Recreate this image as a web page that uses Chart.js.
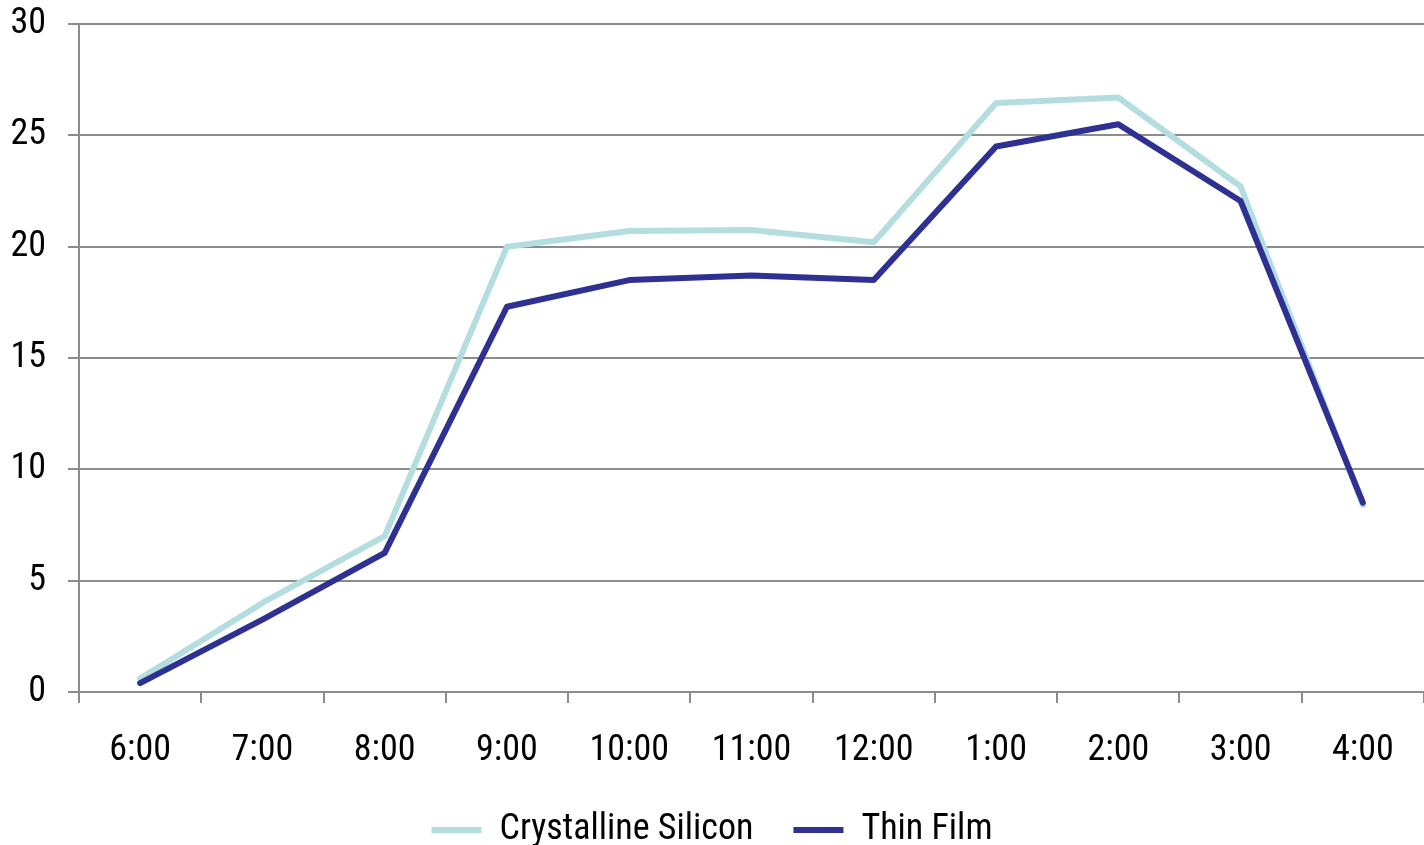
<!DOCTYPE html>
<html>
<head>
<meta charset="utf-8">
<script src="https://cdn.jsdelivr.net/npm/chart.js@4/dist/chart.umd.min.js"></script>
<style>
  html, body { margin: 0; padding: 0; background: #fff; }
  #wrap { width: 1424px; height: 845px; }
</style>
</head>
<body>
<div id="wrap"><canvas id="chart"></canvas></div>
<script>
// hours of the day
const hours = ["6:00", "7:00", "8:00", "9:00", "10:00", "11:00", "12:00", "1:00", "2:00", "3:00", "4:00"];
const crystalline = [0.6, 4.0, 7.0, 20.0, 20.7, 20.75, 20.2, 26.45, 26.7, 22.7, 8.4];
const thinFilm = [0.4, 3.25, 6.25, 17.3, 18.5, 18.7, 18.5, 24.5, 25.5, 22.05, 8.5];
const yTicks = [0, 5, 10, 15, 20, 25, 30];

const FONT = "'Liberation Sans Narrow', 'Arial Narrow', 'Roboto Condensed', 'Liberation Sans', sans-serif";
const gridColor = '#8c8c8c';

const ctx = document.getElementById('chart');
new Chart(ctx, {
    type: 'line',
    data: {
        labels: hours,
        datasets: [
            {
                label: 'Crystalline Silicon',
                data: crystalline,
                borderColor: '#b4dde0',
                backgroundColor: '#b4dde0',
                borderWidth: 6,
                order: 1,
            },
            {
                label: 'Thin Film',
                data: thinFilm,
                borderColor: '#2e3192',
                backgroundColor: '#2e3192',
                borderWidth: 6,
                order: 0,
            },
        ],
    },
    options: {
        responsive: true,
        maintainAspectRatio: false,
        animation: false,
        layout: {
            padding: { top: 0, right: 0, left: 0, bottom: 0 },
        },
        elements: {
            line: { tension: 0, borderCapStyle: 'round', borderJoinStyle: 'round' },
            point: { radius: 0, hoverRadius: 0 },
        },
        scales: {
            x: {
                offset: true,
                afterFit: (scale) => { scale.height = 80; },
                grid: {
                    offset: true,
                    drawOnChartArea: false,
                    drawTicks: true,
                    tickLength: 11,
                    color: gridColor,
                    lineWidth: 2,
                },
                border: { display: true, color: gridColor, width: 2 },
                ticks: {
                    color: '#000',
                    padding: 26,
                    maxRotation: 0,
                    font: { family: FONT, size: 36 },
                },
            },
            y: {
                min: 0,
                max: 30,
                afterFit: (scale) => {
                    scale.width = 79;
                    scale.paddingTop = 24;
                },
                afterBuildTicks: (scale) => {
                    scale.ticks = yTicks.map((v) => ({ value: v }));
                },
                grid: {
                    color: gridColor,
                    lineWidth: 2,
                    tickLength: 11,
                },
                border: { display: true, color: gridColor, width: 2 },
                ticks: {
                    color: '#000',
                    padding: 22,
                    font: { family: FONT, size: 36 },
                },
            },
        },
        plugins: {
            tooltip: { enabled: false },
            legend: {
                position: 'bottom',
                maxHeight: 73,
                labels: {
                    usePointStyle: true,
                    pointStyle: 'line',
                    pointStyleWidth: 50,
                    padding: 40,
                    color: '#000',
                    font: { family: FONT, size: 36 },
                    sort: (a, b) => a.datasetIndex - b.datasetIndex,
                },
            },
        },
    },
});
</script>
</body>
</html>
